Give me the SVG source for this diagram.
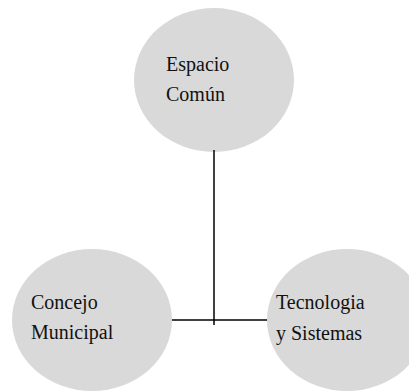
<svg xmlns="http://www.w3.org/2000/svg" width="409" height="392" viewBox="0 0 409 392">
<style>
.node ellipse{fill:#d9d9d9;stroke:none}
.node text{font-family:"Liberation Serif","Times New Roman",serif;font-size:20px;fill:#111}
.conn line{stroke:#000;stroke-width:1.5}
</style>
<rect width="409" height="392" fill="#fff"/>
<g id="espacio-comun" class="node">
<ellipse cx="214" cy="80" rx="80" ry="72"/>
<text x="166" y="71">Espacio</text>
<text x="166" y="101">Común</text>
</g>
<g id="concejo-municipal" class="node">
<ellipse cx="92" cy="320" rx="80" ry="71"/>
<text x="31" y="309">Concejo</text>
<text x="31" y="339">Municipal</text>
</g>
<g id="tecnologia-sistemas" class="node">
<ellipse cx="347" cy="320" rx="80" ry="71"/>
<text x="276" y="309">Tecnologia</text>
<text x="276" y="340">y Sistemas</text>
</g>
<g id="connectors" class="conn">
<line x1="214" y1="150" x2="214" y2="325"/>
<line x1="172" y1="320" x2="267" y2="320"/>
</g>
</svg>
